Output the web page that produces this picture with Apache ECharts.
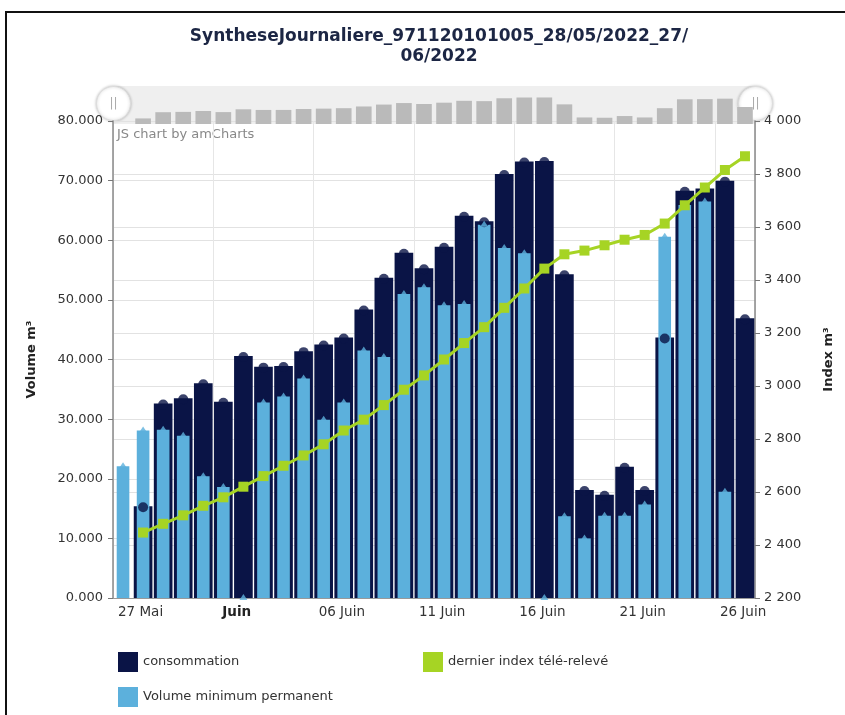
<!DOCTYPE html>
<html>
<head>
<meta charset="utf-8">
<script src="https://cdn.jsdelivr.net/npm/echarts@6/dist/echarts.min.js"></script>
<style>
html,body{margin:0;padding:0;background:#fff;}
#wrap{position:relative;width:845px;height:715px;}
#chart{position:absolute;left:0;top:0;width:845px;height:715px;}
#frame{position:absolute;left:5px;top:11px;width:845px;height:720px;border-top:2px solid #111;border-left:2px solid #111;pointer-events:none;}
</style>
</head>
<body>
<div id="wrap"><div id="chart"></div><div id="frame"></div></div>
<script>
// Days 27 Mai .. 27 Juin 2022
var categories = ['27/05','28/05','29/05','30/05','31/05','01/06','02/06','03/06','04/06','05/06','06/06','07/06','08/06','09/06','10/06','11/06','12/06','13/06','14/06','15/06','16/06','17/06','18/06','19/06','20/06','21/06','22/06','23/06','24/06','25/06','26/06','27/06'];
// boundary tick labels (day starts), 33 entries
var tickLabels = ['27 Mai','','','','','Juin','','','','','06 Juin','','','','','11 Juin','','','','','16 Juin','','','','','21 Juin','','','','','26 Juin','',''];
// consommation (thousand units shown as 80.000 etc.)
var consommation = [null,15.4,32.6,33.5,36.0,32.9,40.6,38.8,38.9,41.4,42.5,43.7,48.4,53.7,57.9,55.3,58.9,64.1,63.2,71.1,73.2,73.3,54.3,18.1,17.3,22.0,18.1,43.7,68.3,68.7,70.0,46.9];
// volume minimum permanent
var volumeMin = [22.1,28.1,28.2,27.2,20.4,18.6,0,32.8,33.8,36.8,29.9,32.8,41.5,40.4,51.0,52.1,49.1,49.3,62.6,58.7,57.8,0,13.7,10.0,13.8,13.8,15.7,60.6,65.9,66.5,17.8,null];
// dernier index télé-relevé
var indexReleve = [null,2447,2480,2512,2548,2580,2620,2660,2699,2738,2780,2832,2873,2928,2986,3040,3100,3162,3222,3295,3368,3443,3497,3511,3531,3552,3570,3613,3682,3749,3815,3867];
var leftTicks = {min:0, max:80, interval:10};
var rightTicks = {min:2200, max:4000, interval:200};

var NAVY = '#0a1446', LIGHT = '#5cb0dc', GREEN = '#a6d424', FONT = 'DejaVu Sans';
var chart = echarts.init(document.getElementById('chart'));
function spaceThousands(v){return String(Math.round(v)).replace(/\B(?=(\d{3})+(?!\d))/g,' ');}

var option = {
  animation:false,
  textStyle:{fontFamily:FONT},
  title:{
    text:'SyntheseJournaliere_971120101005_28/05/2022_27/\n06/2022',
    left:434, textAlign:'center', top:22,
    textStyle:{fontFamily:FONT,fontSize:17,fontWeight:'bold',color:'#1c2644',lineHeight:20}
  },
  legend:[
    {data:['consommation'],left:113,top:647,icon:'rect',itemWidth:20,itemHeight:20,itemGap:8,textStyle:{fontFamily:FONT,fontSize:13,color:'#333'}},
    {data:['dernier index télé-relevé'],left:418,top:647,icon:'rect',itemWidth:20,itemHeight:20,textStyle:{fontFamily:FONT,fontSize:13,color:'#333'}},
    {data:['Volume minimum permanent'],left:113,top:682,icon:'rect',itemWidth:20,itemHeight:20,textStyle:{fontFamily:FONT,fontSize:13,color:'#333'}}
  ],
  grid:[
    {left:113,right:90,top:121,bottom:117},
    {left:113,right:90,top:86,height:38,show:true,backgroundColor:'#efefef',borderWidth:0}
  ],
  xAxis:[
    {type:'category',gridIndex:0,data:categories,show:false},
    {type:'category',gridIndex:0,data:categories,show:false},
    {type:'category',gridIndex:0,data:tickLabels,boundaryGap:false,position:'bottom',
      axisLine:{show:true,lineStyle:{color:'#999',width:1}},
      axisTick:{show:false},
      axisLabel:{interval:0,align:'left',padding:[0,0,0,5],margin:7,fontFamily:FONT,fontSize:13.5,color:'#333',
        formatter:function(v){return v==='Juin'?'{b|Juin}':v;},
        rich:{b:{fontWeight:'bold',fontFamily:FONT,fontSize:13.5,color:'#222',padding:[0,0,0,4]}}},
      splitLine:{show:true,interval:4,lineStyle:{color:'#e6e6e6',width:1}}
    },
    {type:'category',gridIndex:1,data:categories,show:false}
  ],
  yAxis:[
    {type:'value',gridIndex:0,min:leftTicks.min,max:leftTicks.max,interval:leftTicks.interval,
      name:'Volume m³',nameLocation:'middle',nameRotate:90,nameGap:75,
      nameTextStyle:{fontFamily:FONT,fontSize:13,fontWeight:'bold',color:'#222'},
      axisLine:{show:true,lineStyle:{color:'#888',width:1.5}},
      axisTick:{show:true,length:5,lineStyle:{color:'#777'}},
      axisLabel:{margin:10,fontFamily:FONT,fontSize:13,color:'#333',formatter:function(v){return v.toFixed(3);}},
      splitLine:{show:true,lineStyle:{color:'#e2e2e2',width:1}}
    },
    {type:'value',gridIndex:0,position:'right',min:rightTicks.min,max:rightTicks.max,interval:rightTicks.interval,
      name:'Index m³',nameLocation:'middle',nameRotate:90,nameGap:67,
      nameTextStyle:{fontFamily:FONT,fontSize:13,fontWeight:'bold',color:'#222'},
      axisLine:{show:true,lineStyle:{color:'#888',width:1.5}},
      axisTick:{show:true,length:5,lineStyle:{color:'#777'}},
      axisLabel:{margin:9,fontFamily:FONT,fontSize:13,color:'#333',formatter:spaceThousands},
      splitLine:{show:true,lineStyle:{color:'#e2e2e2',width:1}}
    },
    {type:'value',gridIndex:1,min:0,max:105,show:false}
  ],
  series:[
    {name:'consommation',type:'bar',xAxisIndex:0,yAxisIndex:0,data:consommation,barWidth:'93%',itemStyle:{color:NAVY},z:2},
    {name:'Volume minimum permanent',type:'bar',xAxisIndex:1,yAxisIndex:0,data:volumeMin,barWidth:'63%',itemStyle:{color:LIGHT},z:3},
    {name:'consBullet',type:'scatter',xAxisIndex:0,yAxisIndex:0,data:consommation,symbol:'circle',symbolSize:10,symbolOffset:[0,1],itemStyle:{color:NAVY},z:4,silent:true},
    {name:'volBullet',type:'scatter',xAxisIndex:1,yAxisIndex:0,data:volumeMin,symbol:'triangle',symbolSize:[8,6],symbolOffset:[0,-1],itemStyle:{color:LIGHT},z:5,silent:true},
    {name:'dernier index télé-relevé',type:'line',xAxisIndex:0,yAxisIndex:1,data:indexReleve,symbol:'rect',symbolSize:10,showSymbol:true,
      lineStyle:{color:GREEN,width:3},itemStyle:{color:GREEN},z:6},
    {name:'mini',type:'bar',xAxisIndex:3,yAxisIndex:2,data:consommation,barWidth:'78%',itemStyle:{color:'#bababa'},silent:true}
  ],
  graphic:[
    {type:'text',left:117,top:128,style:{text:'JS chart by amCharts',fontFamily:FONT,fontSize:13,fill:'#888'}},
    {type:'group',left:96,top:86,children:[
      {type:'circle',shape:{cx:17,cy:17,r:17},style:{fill:'#fff',stroke:'#ddd',lineWidth:1,shadowBlur:3,shadowColor:'rgba(0,0,0,0.25)'}},
      {type:'text',style:{x:17,y:17,text:'||',align:'center',verticalAlign:'middle',fontFamily:FONT,fontSize:12,fill:'#aaa'}}
    ]},
    {type:'group',left:738,top:86,children:[
      {type:'circle',shape:{cx:17,cy:17,r:17},style:{fill:'#fff',stroke:'#ddd',lineWidth:1,shadowBlur:3,shadowColor:'rgba(0,0,0,0.25)'}},
      {type:'text',style:{x:17,y:17,text:'||',align:'center',verticalAlign:'middle',fontFamily:FONT,fontSize:12,fill:'#aaa'}}
    ]}
  ]
};
chart.setOption(option);
</script>
</body>
</html>
